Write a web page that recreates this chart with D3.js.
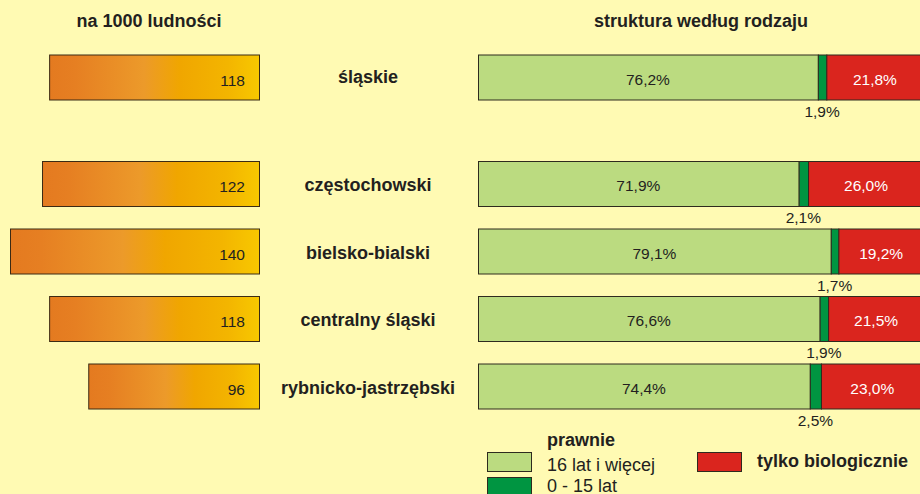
<!DOCTYPE html>
<html>
<head>
<meta charset="utf-8">
<script src="https://cdn.jsdelivr.net/npm/d3@7"></script>
<style>
  html, body { margin: 0; padding: 0; background: #FFFAB3; }
  svg { display: block; font-family: "Liberation Sans", Arial, sans-serif; }
</style>
</head>
<body>
<svg id="chart" width="920" height="494"></svg>
<script>
// Regions: voivodeship total followed by its subregions
const regions = ["śląskie", "częstochowski", "bielsko-bialski", "centralny śląski", "rybnicko-jastrzębski"];
// Marriages / unions per 1000 population
const perThousand = [118, 122, 140, 118, 96];
// Structure by type, in percent
const legal16plus = [76.2, 71.9, 79.1, 76.6, 74.4];
const legal0to15 = [1.9, 2.1, 1.7, 1.9, 2.5];
const biologicalOnly = [21.8, 26.0, 19.2, 21.5, 23.0];

const leftTitle = "na 1000 ludności";
const rightTitle = "struktura według rodzaju";
const legendHeader = "prawnie";
const seriesNames = ["16 lat i więcej", "0 - 15 lat", "tylko biologicznie"];
const seriesColors = ["#BBDB80", "#009541", "#DA251E"];

const fmt = v => v.toFixed(1).replace(".", ",") + "%";

const svg = d3.select("#chart");
const ink = "#231F20";
const barH = 45;

// Vertical placement: total row on top, subregions below it
const ySub = d3.scaleBand()
  .domain(regions.slice(1))
  .range([161, 161 + 4 * 67.5])
  .paddingInner(0)
  .paddingOuter(0);
const yTop = r => (r === regions[0] ? 54.5 : ySub(r));

// Left panel: value per 1000 population, bars grow leftwards
const xLeft = d3.scaleLinear().domain([0, 140]).range([259, 10]);

const defs = svg.append("defs");
const grad = defs.append("linearGradient").attr("id", "orangeGrad")
  .attr("x1", "0%").attr("x2", "100%").attr("y1", "0%").attr("y2", "0%");
[["0%", "#E47A20"], ["12%", "#E67F22"], ["45%", "#EC9A2A"], ["62%", "#F0A600"], ["85%", "#F3B500"], ["100%", "#F8C800"]]
  .forEach(([o, c]) => grad.append("stop").attr("offset", o).attr("stop-color", c));

svg.append("text").attr("x", 149).attr("y", 27).attr("text-anchor", "middle")
  .attr("font-size", 18).attr("font-weight", "bold").attr("fill", ink).text(leftTitle);
svg.append("text").attr("x", 701).attr("y", 27).attr("text-anchor", "middle")
  .attr("font-size", 18).attr("font-weight", "bold").attr("fill", ink).text(rightTitle);

const left = svg.append("g");
left.selectAll("rect").data(regions).join("rect")
  .attr("x", (d, i) => xLeft(perThousand[i]) + 0.5)
  .attr("y", d => yTop(d) + 0.5)
  .attr("width", (d, i) => xLeft(0) - xLeft(perThousand[i]))
  .attr("height", barH)
  .attr("fill", "url(#orangeGrad)")
  .attr("stroke", "#3B2A14").attr("stroke-width", 1);
left.selectAll("text").data(regions).join("text")
  .attr("x", xLeft(0) - 14)
  .attr("y", d => yTop(d) + barH / 2 + 8.5)
  .attr("text-anchor", "end").attr("font-size", 15.5).attr("fill", ink)
  .text((d, i) => perThousand[i]);

// Region names between the panels
svg.append("g").selectAll("text").data(regions).join("text")
  .attr("x", 368)
  .attr("y", d => yTop(d) + barH / 2 + (d === regions[0] ? 6 : 7.5))
  .attr("text-anchor", "middle").attr("font-size", 18).attr("font-weight", "bold").attr("fill", ink)
  .text(d => d);

// Right panel: stacked structure bars
const xRight = d3.scaleLinear().domain([0, 100]).range([478, 924]);
const table = regions.map((r, i) => ({ region: r, a: legal16plus[i], b: legal0to15[i], c: biologicalOnly[i] }));
const stack = d3.stack().keys(["a", "b", "c"])(table);

const right = svg.append("g");
stack.forEach((layer, k) => {
  right.append("g").selectAll("rect").data(layer).join("rect")
    .attr("x", d => xRight(d[0]) + 0.5)
    .attr("y", d => yTop(d.data.region) + 0.5)
    .attr("width", d => xRight(d[1]) - xRight(d[0]))
    .attr("height", barH)
    .attr("fill", seriesColors[k])
    .attr("stroke", "#2E2A1E").attr("stroke-width", 1);
});
// labels: legal 16+ inside (dark), biological inside (white), legal 0-15 below bar
right.append("g").selectAll("text").data(stack[0]).join("text")
  .attr("x", d => (xRight(d[0]) + xRight(d[1])) / 2)
  .attr("y", d => yTop(d.data.region) + barH / 2 + 7.5)
  .attr("text-anchor", "middle").attr("font-size", 15.5).attr("fill", ink)
  .text(d => fmt(d.data.a));
right.append("g").selectAll("text").data(stack[2]).join("text")
  .attr("x", d => (xRight(d[0]) + xRight(d[1])) / 2)
  .attr("y", d => yTop(d.data.region) + barH / 2 + 7.5)
  .attr("text-anchor", "middle").attr("font-size", 15.5).attr("fill", "#FFFFFF")
  .text(d => fmt(d.data.c));
right.append("g").selectAll("text").data(stack[1]).join("text")
  .attr("x", d => (xRight(d[0]) + xRight(d[1])) / 2)
  .attr("y", d => yTop(d.data.region) + barH + 17)
  .attr("text-anchor", "middle").attr("font-size", 15.5).attr("fill", ink)
  .text(d => fmt(d.data.b));

// Legend
const lg = svg.append("g");
lg.append("text").attr("x", 547).attr("y", 446).attr("font-size", 18).attr("font-weight", "bold")
  .attr("fill", ink).text(legendHeader);
const swatches = [
  { x: 487, y: 452.5, color: seriesColors[0], label: seriesNames[0], tx: 547, ty: 470.5, bold: false },
  { x: 487, y: 477.5, color: seriesColors[1], label: seriesNames[1], tx: 547, ty: 491.5, bold: false },
  { x: 697, y: 452.5, color: seriesColors[2], label: seriesNames[2], tx: 757, ty: 467, bold: true }
];
lg.selectAll("rect").data(swatches).join("rect")
  .attr("x", d => d.x + 0.5).attr("y", d => d.y).attr("width", 44).attr("height", 19)
  .attr("fill", d => d.color).attr("stroke", "#2E2A1E").attr("stroke-width", 1);
lg.selectAll("text.item").data(swatches).join("text").attr("class", "item")
  .attr("x", d => d.tx).attr("y", d => d.ty)
  .attr("font-size", 18).attr("font-weight", d => d.bold ? "bold" : "normal")
  .attr("fill", ink).text(d => d.label);
</script>
</body>
</html>
